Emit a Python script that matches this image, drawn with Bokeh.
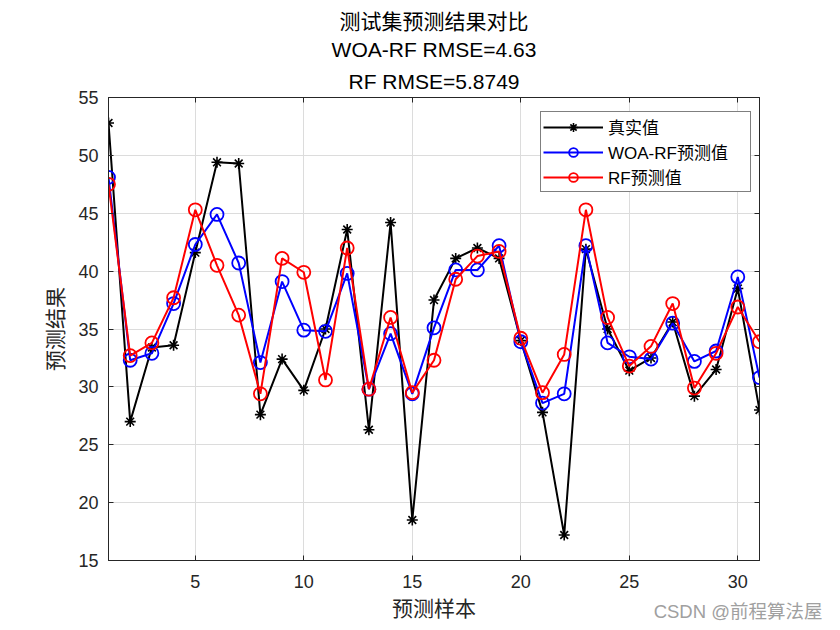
from bokeh.plotting import figure
from bokeh.models import Range1d, LinearAxis, Legend, LegendItem, Title, FixedTicker
from bokeh.embed import file_html
from bokeh.resources import INLINE

samples = list(range(1, 32))
true_vals = [52.8, 27.0, 33.4, 33.6, 41.6, 49.4, 49.3, 27.6, 32.4, 29.7,
             35.0, 43.6, 26.3, 44.2, 18.5, 37.5, 41.1, 42.0, 41.1, 34.0,
             27.8, 17.2, 41.9, 35.0, 31.4, 32.5, 35.6, 29.2, 31.5, 38.5, 28.0]
woa_rf = [48.1, 32.3, 32.9, 37.2, 42.3, 44.9, 40.7, 32.1, 39.1, 34.9,
          34.8, 39.8, 29.8, 34.6, 29.4, 35.1, 40.1, 40.1, 42.2, 33.9,
          28.6, 29.4, 42.2, 33.8, 32.6, 32.4, 35.5, 32.2, 33.1, 39.5, 30.8]
rf = [47.5, 32.7, 33.8, 37.7, 45.3, 40.5, 36.2, 29.4, 41.1, 39.9,
      30.6, 42.0, 29.8, 36.0, 29.5, 32.3, 39.3, 41.3, 41.7, 34.2,
      29.5, 32.8, 45.3, 36.0, 31.8, 33.5, 37.2, 29.9, 32.9, 36.9, 33.9]

x_ticks = [5, 10, 15, 20, 25, 30]
y_ticks = [15, 20, 25, 30, 35, 40, 45, 50, 55]
titles = ["测试集预测结果对比", "WOA-RF RMSE=4.63", "RF RMSE=5.8749"]
series_names = ["真实值", "WOA-RF预测值", "RF预测值"]
watermark = "CSDN @前程算法屋"

FONT = "Liberation Sans, Noto Sans CJK SC"
TXT = "#262626"

p = figure(width=832, height=622, output_backend="svg", toolbar_location=None,
           x_range=Range1d(1, 31), y_range=Range1d(15, 55),
           min_border_left=108, min_border_right=73, min_border_top=97,
           min_border_bottom=62, x_axis_label="预测样本", y_axis_label="预测结果")
p.title.visible = False
p.outline_line_color = TXT
p.outline_line_width = 1
p.background_fill_color = "white"
p.border_fill_color = "white"

for ax in [p.xaxis[0], p.yaxis[0]]:
    ax.major_tick_in = 5
    ax.major_tick_out = 0
    ax.minor_tick_line_color = None
    ax.axis_line_color = TXT
    ax.major_tick_line_color = TXT
    ax.major_label_text_font = FONT
    ax.major_label_text_font_size = "18px"
    ax.major_label_text_color = TXT
    ax.axis_label_text_font = FONT
    ax.axis_label_text_font_size = "21px"
    ax.axis_label_text_font_style = "normal"
    ax.axis_label_text_color = TXT

p.xaxis[0].ticker = FixedTicker(ticks=x_ticks)
p.yaxis[0].ticker = FixedTicker(ticks=y_ticks)
p.xaxis[0].major_label_standoff = 14
p.yaxis[0].major_label_standoff = 10
p.xaxis[0].axis_label_standoff = 6
p.yaxis[0].axis_label_standoff = 8

for loc, tk in [("right", y_ticks), ("above", x_ticks)]:
    ax = LinearAxis(ticker=FixedTicker(ticks=tk), major_tick_in=5, major_tick_out=0,
                    minor_tick_line_color=None, major_label_text_color=None,
                    major_label_text_font_size="0px", major_label_standoff=0,
                    axis_line_color=TXT, major_tick_line_color=TXT)
    p.add_layout(ax, loc)

for txt, so in [(titles[2], 10), (titles[1], 3), (titles[0], 4)]:
    p.add_layout(Title(text=txt, align="center", text_font=FONT, text_font_size="21px",
                       text_font_style="normal", text_color="black", standoff=so), "above")

p.add_layout(Title(text=watermark, align="right", offset=-63, standoff=-44,
                   vertical_align="top", text_font=FONT, text_font_size="18.5px",
                   text_font_style="normal", text_color="#a0a0a0"), "below")

p.xgrid.ticker = FixedTicker(ticks=x_ticks)
p.ygrid.ticker = FixedTicker(ticks=y_ticks)
p.grid.grid_line_color = "#dcdcdc"
p.grid.grid_line_width = 1

l1 = p.line(samples, true_vals, line_color="black", line_width=2)
m1 = p.scatter(samples, true_vals, marker="asterisk", size=11, line_color="black", line_width=1.6)
l2 = p.line(samples, woa_rf, line_color="#0000ff", line_width=2)
m2 = p.scatter(samples, woa_rf, marker="circle", size=13, line_color="#0000ff",
               fill_color=None, line_width=1.8)
l3 = p.line(samples, rf, line_color="#ff0000", line_width=2)
m3 = p.scatter(samples, rf, marker="circle", size=13, line_color="#ff0000",
               fill_color=None, line_width=1.8)

legend = Legend(items=[LegendItem(label=series_names[0], renderers=[l1, m1]),
                       LegendItem(label=series_names[1], renderers=[l2, m2]),
                       LegendItem(label=series_names[2], renderers=[l3, m3])],
                location=(432, 368), glyph_width=60, glyph_height=22, label_height=22,
                label_width=140, spacing=-1, padding=2, margin=0, label_standoff=5,
                label_text_font=FONT, label_text_font_size="17px", label_text_color="black",
                border_line_color="black", border_line_width=1,
                background_fill_color="white", background_fill_alpha=1)
p.add_layout(legend, "center")

open("out.html", "w").write(file_html(p, INLINE))
